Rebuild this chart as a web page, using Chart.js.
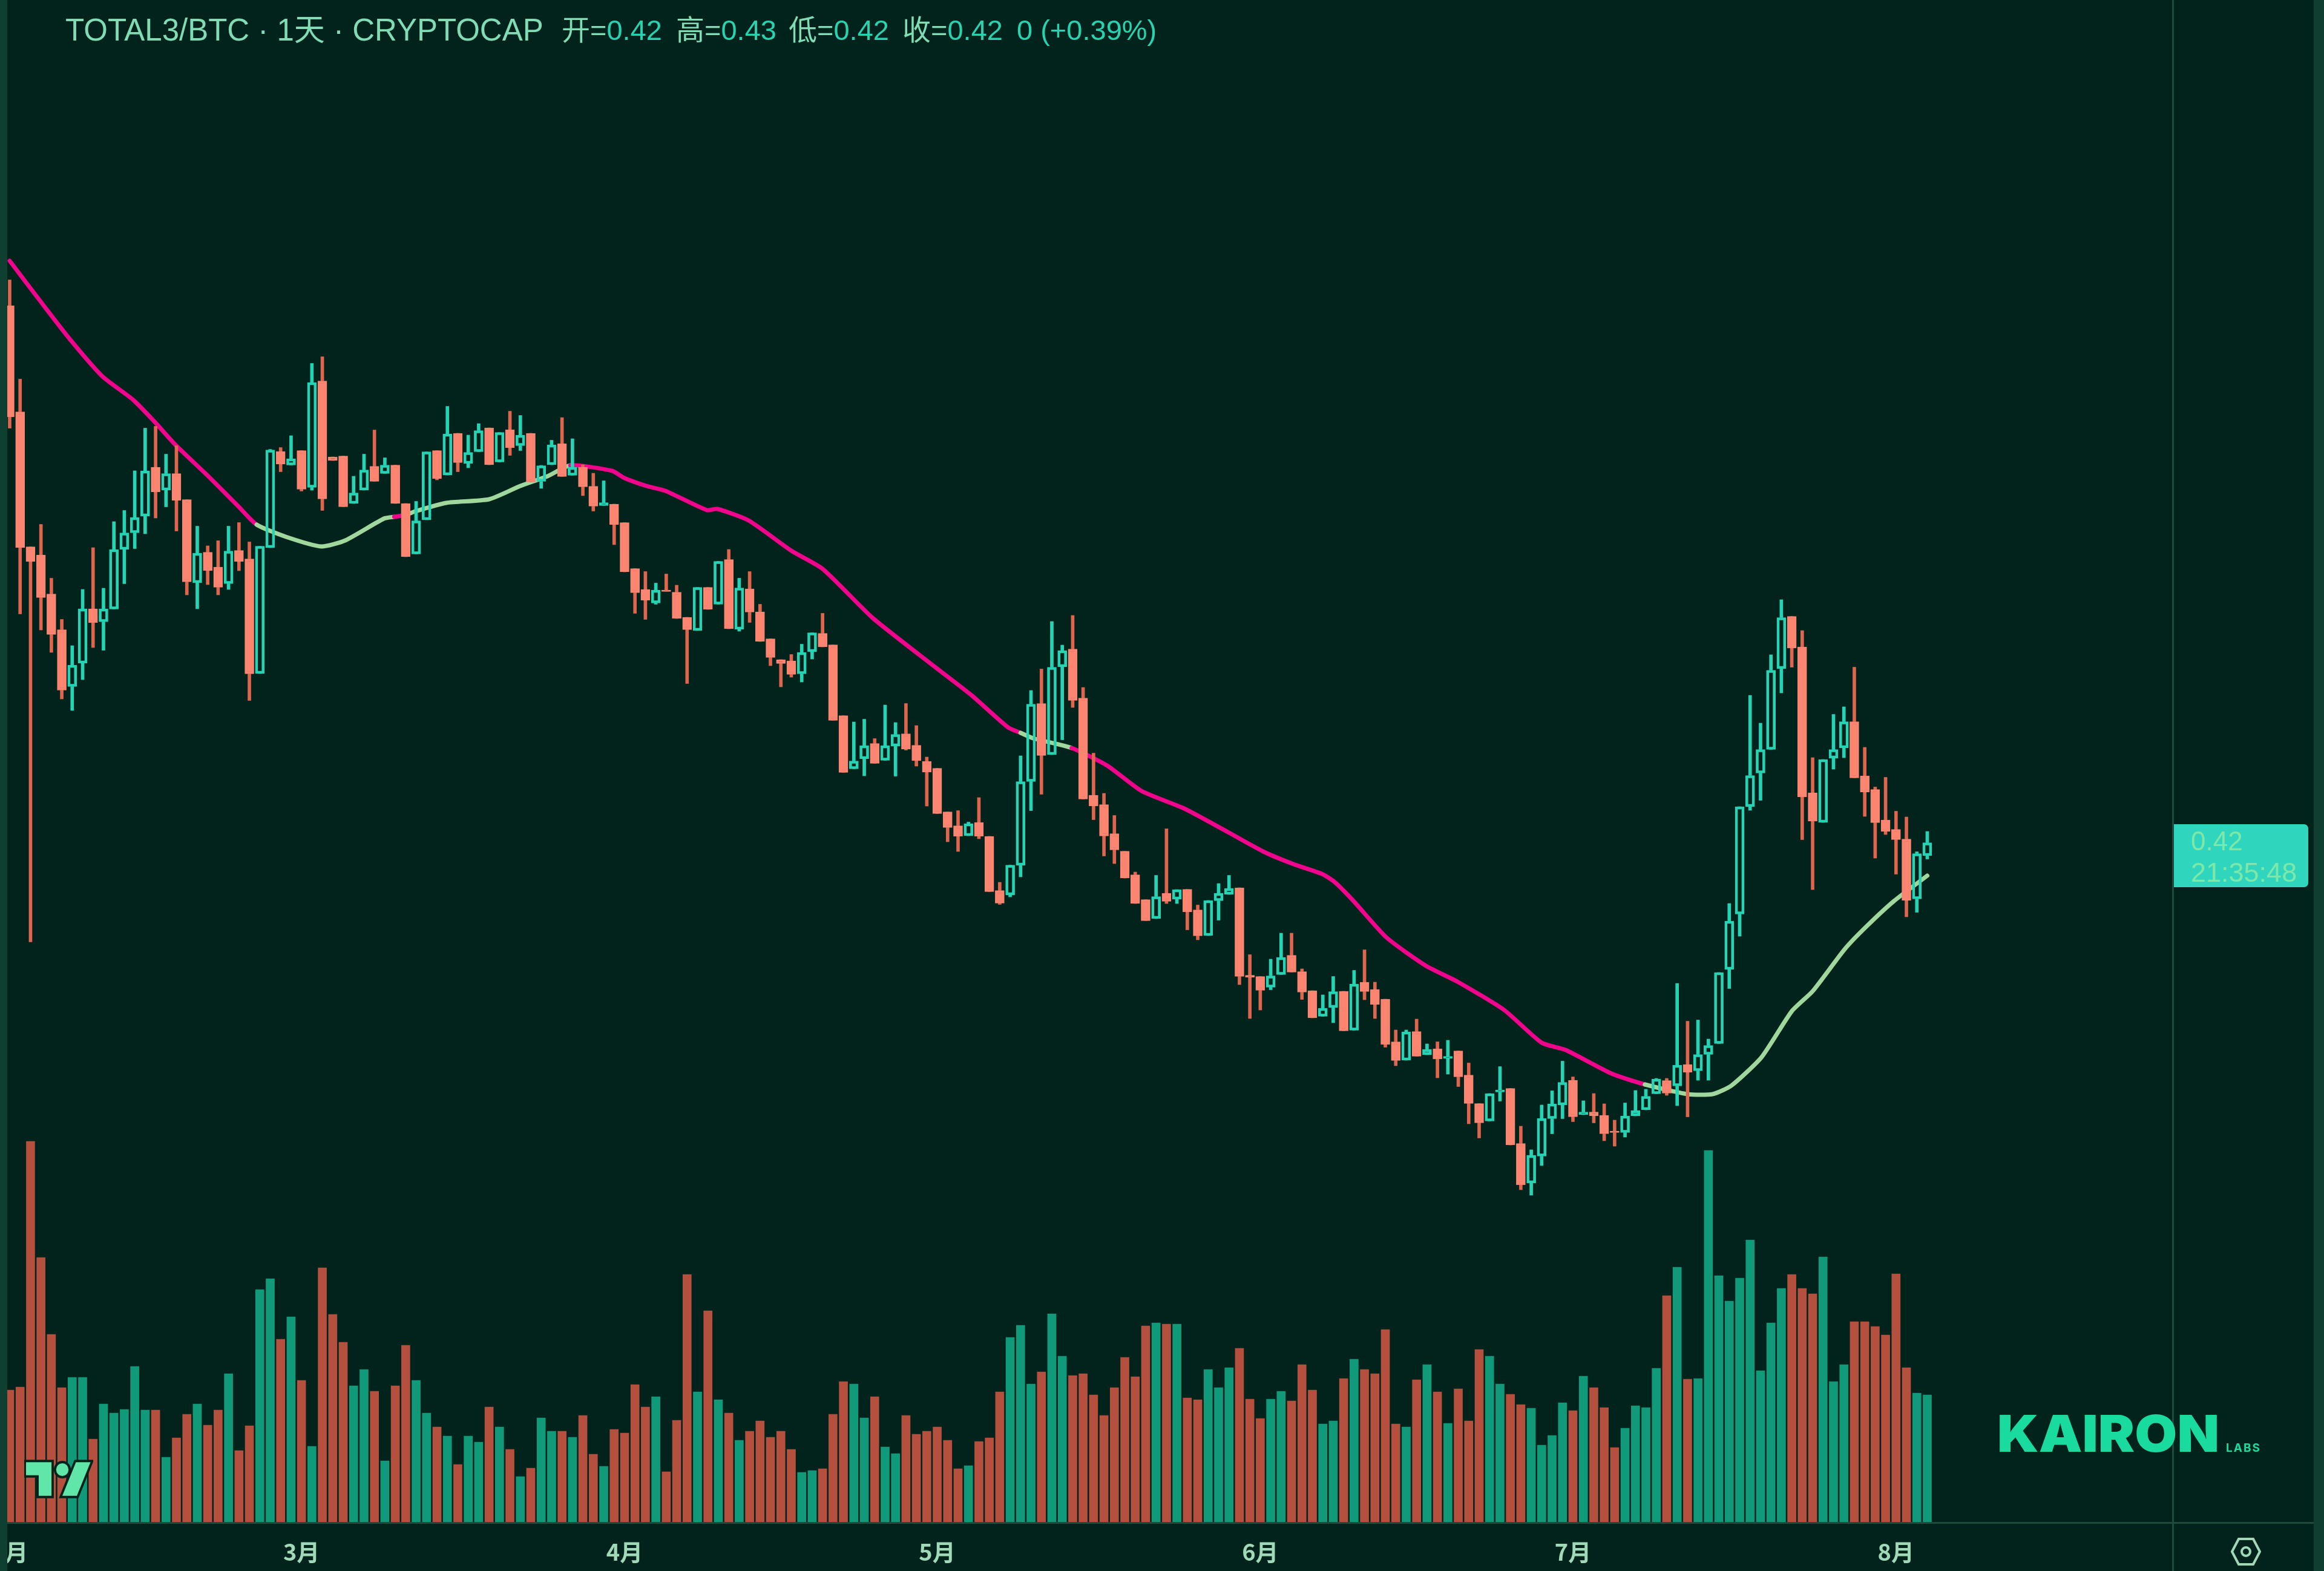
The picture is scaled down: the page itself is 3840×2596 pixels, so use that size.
<!DOCTYPE html>
<html><head><meta charset="utf-8">
<script src="https://cdn.jsdelivr.net/npm/chart.js@4"></script>
<style>
html,body{margin:0;padding:0;background:#02231c;width:3840px;height:2596px;overflow:hidden}
#wrap{position:relative;width:3840px;height:2596px;overflow:hidden}
canvas{position:absolute;left:0;top:0}
.o{position:absolute;white-space:nowrap;font-family:"Liberation Sans",sans-serif;line-height:1}
.bar{position:absolute;background:#1d4c3d}
</style></head><body><div id="wrap"><canvas id="c" width="3840" height="2596"></canvas></div>
<script>
// Prices are held in units of 0.0001 (4200 = 0.42)
const open=[5996,5645,5199,5172,5043,4925,4737,4814,4994,4951,4993,5190,5245,5300,5462,5386,5441,5355,5080,5181,5132,5077,5187,5159,4780,5196,5514,5469,5517,5395,5747,5496,5499,5342,5386,5465,5441,5469,5342,5175,
5288,5517,5436,5574,5474,5513,5592,5479,5586,5533,5574,5415,5470,5540,5435,5462,5399,5335,5340,5279,5127,5058,5013,5056,5049,4966,4922,5065,5009,5157,4926,5060,4984,4895,4826,4822,4779,4852,4913,4875,4641,4465,4498,4549,
4493,4540,4581,4543,4490,4467,4323,4277,4244,4288,4242,4063,4048,4146,4423,4681,4512,4802,4861,4699,4378,4347,4251,4193,4115,4033,3970,4054,4034,4067,3999,3914,4029,4050,4072,
3783,3779,3743,3785,3849,3795,3732,3647,3676,3730,3601,3760,3736,3704,3563,3502,3597,3520,3540,3508,3533,3453,3359,3301,3397,3409,3227,3096,3185,3309,3354,3436,3322,3331,3320,3268,3263,3318,3338,3391,3435,3417,3488,
3467,3521,3557,3802,3985,4340,4451,4529,4796,4969,4868,4386,4288,4500,4534,4621,4442,4397,4296,4265,4233,4035,4178];
const close=[5628,5196,5150,5031,4909,4725,4808,4994,4948,4994,5190,5245,5296,5450,5380,5441,5352,5083,5178,5120,5065,5185,5150,4779,5201,5519,5472,5490,5389,5742,5357,5484,5331,5377,5453,5415,5469,5342,5166,5285,
5513,5424,5572,5477,5511,5583,5470,5577,5526,5568,5413,5467,5536,5431,5462,5397,5333,5345,5272,5116,5047,5022,5056,5051,4962,4925,5065,4992,5151,4928,5063,4983,4886,4833,4813,4777,4850,4915,4868,4625,4453,4491,4542,4483,
4542,4579,4530,4492,4454,4317,4271,4242,4284,4242,4059,4021,4147,4423,4679,4509,4801,4856,4691,4365,4342,4243,4197,4104,4020,3963,4043,4027,4066,3992,3913,4030,4054,4070,3779,
3776,3733,3781,3842,3793,3727,3642,3674,3729,3599,3754,3729,3686,3554,3501,3596,3515,3538,3506,3515,3447,3359,3295,3392,3404,3222,3090,3188,3310,3358,3429,3315,3331,3318,3259,3263,3318,3336,3383,3440,3393,3486,3462,
3521,3551,3792,3962,4340,4443,4529,4791,4965,4864,4372,4292,4496,4529,4621,4435,4388,4287,4258,4231,4030,4185,4221];
const high=[6081,5753,5199,5273,5095,4959,4872,5058,5196,5062,5282,5319,5450,5591,5597,5505,5533,5355,5267,5202,5219,5267,5279,5215,5201,5521,5527,5566,5517,5805,5827,5496,5499,5432,5505,5585,5493,5469,5342,5349,
5513,5517,5663,5574,5568,5606,5592,5577,5647,5633,5574,5468,5551,5626,5556,5470,5442,5417,5340,5279,5127,5117,5079,5109,5072,4966,5065,5065,5151,5190,5095,5117,5009,4895,4826,4843,4877,4915,4979,4875,4641,4620,4629,4565,
4676,4618,4681,4608,4504,4467,4323,4327,4289,4370,4242,4090,4147,4508,4724,4795,4952,4874,4972,4734,4517,4384,4311,4193,4124,4033,4113,4267,4066,4067,4015,4030,4086,4113,4072,
3851,3779,3836,3922,3922,3804,3732,3718,3779,3730,3799,3867,3760,3704,3602,3602,3638,3556,3563,3568,3533,3493,3359,3392,3481,3409,3284,3206,3354,3401,3499,3447,3368,3392,3358,3304,3361,3402,3406,3442,3442,3756,3631,
3635,3572,3792,4020,4340,4708,4616,4842,5024,4969,4922,4502,4496,4645,4670,4801,4536,4405,4437,4325,4306,4191,4258];
const low=[5591,4977,3893,4924,4850,4696,4658,4760,4866,4857,4993,5077,5193,5242,5294,5331,5251,5040,4994,5074,5040,5058,5120,4691,4780,5196,5447,5469,5383,5386,5319,5484,5331,5342,5386,5415,5441,5342,5166,5175,
5288,5420,5436,5447,5460,5513,5470,5479,5501,5517,5413,5392,5470,5431,5435,5368,5317,5335,5206,5116,4979,4959,5009,5051,4962,4747,4922,4992,5009,4928,4920,4949,4886,4806,4736,4768,4752,4828,4868,4625,4453,4465,4442,4483,
4493,4441,4527,4474,4342,4317,4224,4192,4244,4234,4059,4017,4042,4108,4327,4381,4512,4561,4668,4365,4297,4177,4152,4104,4020,3963,3970,4020,4020,3933,3900,3914,3965,4050,3752,
3640,3668,3735,3785,3793,3703,3642,3647,3626,3599,3601,3702,3640,3545,3484,3502,3515,3520,3444,3456,3415,3292,3245,3301,3367,3222,3074,3056,3154,3259,3309,3299,3322,3295,3236,3218,3248,3318,3338,3391,3386,3352,3315,
3436,3436,3557,3739,3912,4328,4361,4529,4716,4801,4231,4066,4288,4464,4502,4435,4308,4170,4248,4117,3976,3991,4167];
const volume=[218,223,629,437,310,222,239,239,137,195,180,186,257,185,185,107,139,178,195,160,185,245,118,159,384,402,302,339,234,125,420,343,297,225,252,216,101,225,292,234,
180,157,142,95,142,132,190,157,120,75,89,172,150,150,140,176,112,92,153,147,227,190,207,83,168,409,215,349,202,180,135,150,167,140,150,120,82,85,88,178,
232,228,172,207,124,113,176,145,150,157,135,88,93,133,139,215,305,325,228,248,344,274,242,245,210,176,222,272,240,324,329,327,327,205,202,252,222,255,287,203,
171,203,216,200,260,218,162,167,237,269,252,245,318,162,157,235,260,215,163,220,167,285,274,228,211,194,188,127,143,197,184,241,222,189,123,155,192,189,254,374,
421,236,237,614,407,365,403,466,250,329,386,409,386,377,438,232,260,331,331,323,309,410,255,213,210];
// Moving average: bar position and value
const maBar=[0,3,5.8,8.9,11.8,13.8,15.9,19,21.9,23.7,26.5,29.9,32.2,35.9,36.9,38,38.9,41.9,46,49,51.6,53.8,57.8,59,61.1,62.9,66.9,67.9,70.9,75,78,82.8,88.4,92.3,95.8,97,98.2,101.9,105.3,108.6,112.7,117,120.4,123.2,125.9,127.1,128.9,132.1,135.9,138.9,143.4,147,149.3,153.7,156.9,161,163.4,165.2,168.1,171,173,176.1,178.1,180.8,184];
const maValue=[6144,6008,5884,5762,5686,5616,5536,5434,5334,5272,5232,5200,5220,5292,5298,5304,5316,5344,5356,5400,5432,5468,5450,5426,5400,5384,5320,5324,5286,5186,5126,4964,4812,4708,4602,4584,4566,4534,4476,4392,4334,4254,4190,4150,4118,4092,4030,3908,3814,3762,3668,3560,3536,3458,3422,3390,3390,3418,3512,3664,3730,3870,3942,4028,4112];
// Stretches of the average shown in green (price above the line)
const maGreenFrom=[23.7,38,97,156.9];
const maGreenTo=[36.9,53.8,101.9,184];
const monthBars=[0,28,59,89,120,150,181];
const monthLabels=["2月","3月","4月","5月","6月","7月","8月"];

const BG="#02231c",UP="#26d3b4",UPV="#109a7a",DN="#fb8570",DNW="#e0654f",DNV="#b5503f";
const isUp=close.map((c,i)=>c>=open[i]);
const bars=close.map((_,i)=>i);
const wrap=document.getElementById("wrap");
Chart.defaults.font.family="'Noto Sans CJK SC',sans-serif";
new Chart(document.getElementById("c"),{
  type:"bar",
  data:{datasets:[
    {type:"bar",label:"成交量",order:5,yAxisID:"yVol",grouped:false,barThickness:14,
      data:bars.map(i=>({x:i,y:volume[i]})),
      backgroundColor:c=>isUp[c.dataIndex]?UPV:DNV},
    {type:"line",label:"MA",order:4,yAxisID:"y",parsing:false,pointRadius:0,borderWidth:7,tension:0.2,borderCapStyle:"round",borderColor:"#f0048c",
      data:maBar.map((b,i)=>({x:b,y:maValue[i]})),
      segment:{borderColor:s=>maGreenFrom.some((f,k)=>s.p0.parsed.x>=f&&s.p0.parsed.x<maGreenTo[k])?"#a0d79c":"#f0048c"}},
    {type:"bar",label:"上影",order:3,yAxisID:"y",grouped:false,barThickness:5,
      data:bars.map(i=>({x:i,y:[Math.max(open[i],close[i]),high[i]]})),
      backgroundColor:c=>isUp[c.dataIndex]?UP:DNW},
    {type:"bar",label:"下影",order:3,yAxisID:"y",grouped:false,barThickness:5,
      data:bars.map(i=>({x:i,y:[low[i],Math.min(open[i],close[i])]})),
      backgroundColor:c=>isUp[c.dataIndex]?UP:DNW},
    {type:"bar",label:"K线",order:2,yAxisID:"y",grouped:false,barThickness:15,borderSkipped:false,
      data:bars.map(i=>({x:i,y:[open[i],close[i]]})),
      backgroundColor:c=>isUp[c.dataIndex]?"rgba(0,0,0,0)":DN,
      borderColor:c=>isUp[c.dataIndex]?UP:DN,
      borderWidth:4}
  ]},
  options:{
    responsive:false,animation:false,devicePixelRatio:1,
    layout:{padding:{left:12,right:250,top:0,bottom:0}},
    plugins:{legend:{display:false},tooltip:{enabled:false}},
    scales:{
      x:{type:"linear",min:-0.232,max:207.55,offset:false,
        grid:{display:false,drawTicks:false},border:{display:false},
        afterBuildTicks:s=>{s.ticks=monthBars.map(v=>({value:v}));},
        afterFit:s=>{s.height=81;s.paddingLeft=0;s.paddingRight=0;},
        ticks:{autoSkip:false,maxRotation:0,padding:27,color:"#9fd9b8",
          font:{size:38,weight:"bold"},
          callback:(v,i)=>monthLabels[i]}},
      y:{display:false,min:1976,max:7006},
      yVol:{display:false,min:0,max:2515}
    }
  }
});
function box(l,t,w,h,c){const d=document.createElement("div");d.className="bar";d.style.cssText=`left:${l}px;top:${t}px;width:${w}px;height:${h}px;background:${c}`;wrap.appendChild(d);}
function txt(s,l,t,size,c,extra){const d=document.createElement("div");d.className="o";d.textContent=s;d.style.cssText=`left:${l}px;top:${t}px;font-size:${size}px;color:${c};${extra||""}`;wrap.appendChild(d);return d;}
box(0,0,12,2596,"#0f3f30");box(3823,0,17,2596,"#0f3f30");
box(12,2515,3811,3,"#1d4c3d");box(3589,0,3,2596,"#1d4c3d");
// header
const LBL="#7fdcb4",VAL="#27d3b0",HF="font-family:'Liberation Sans','Noto Sans CJK SC',sans-serif;";
txt("TOTAL3/BTC · 1天 · CRYPTOCAP",108,24,51,LBL,HF);
[["开=",928,"0.42"],["高=",1117,"0.43"],["低=",1303,"0.42"],["收=",1491,"0.42"]].forEach(([a,x,v])=>{
  const d=txt(a,x,26,47,LBL,HF);const s=document.createElement("span");s.textContent=v;s.style.color=VAL;d.appendChild(s);});
txt("0 (+0.39%)",1680,26,47,VAL,HF);
// last price tag
const tag=document.createElement("div");tag.style.cssText="position:absolute;left:3592px;top:1362px;width:222px;height:104px;background:#2fd6bd;border-radius:0 7px 7px 0";wrap.appendChild(tag);
txt("0.42",3620,1368,44,"#7fe8a8");txt("21:35:48",3620,1419,45,"#7fe8a8");
// marks
const svg=(html,l,t,w,h,vb)=>{const d=document.createElement("div");d.style.cssText=`position:absolute;left:${l}px;top:${t}px;width:${w}px;height:${h}px`;d.innerHTML=`<svg xmlns="http://www.w3.org/2000/svg" width="${w}" height="${h}" viewBox="${vb}" preserveAspectRatio="none">${html}</svg>`;wrap.appendChild(d);};
svg(`<g fill="#5fe6a8" stroke="#02231c" stroke-width="2.6" paint-order="stroke"><path d="M14 22H7V11H0V4h14v18zM28 22h-8l7.5-18h8L28 22z"/><circle cx="20" cy="8" r="3.4"/></g>`,40,2410,114,68,"-1 2 38 22");
svg(`<polygon points="2,25 13,4 37,4 48,25 37,46 13,46" fill="none" stroke="#9fd9b8" stroke-width="4"/><circle cx="25" cy="25" r="7" fill="none" stroke="#9fd9b8" stroke-width="4"/>`,3686,2539,50,50,"0 0 50 50");
const k=txt("KAIRON",3300,2327,84,"#19dba0","font-family:Inter,sans-serif;font-weight:900;transform-origin:0 0;");
const lw=k.getBoundingClientRect().width;k.style.transform=`scaleX(${367/lw})`;
txt("LABS",3678,2383,19,"#19dba0","font-family:Inter,sans-serif;font-weight:700;letter-spacing:2px;");
</script></body></html>
